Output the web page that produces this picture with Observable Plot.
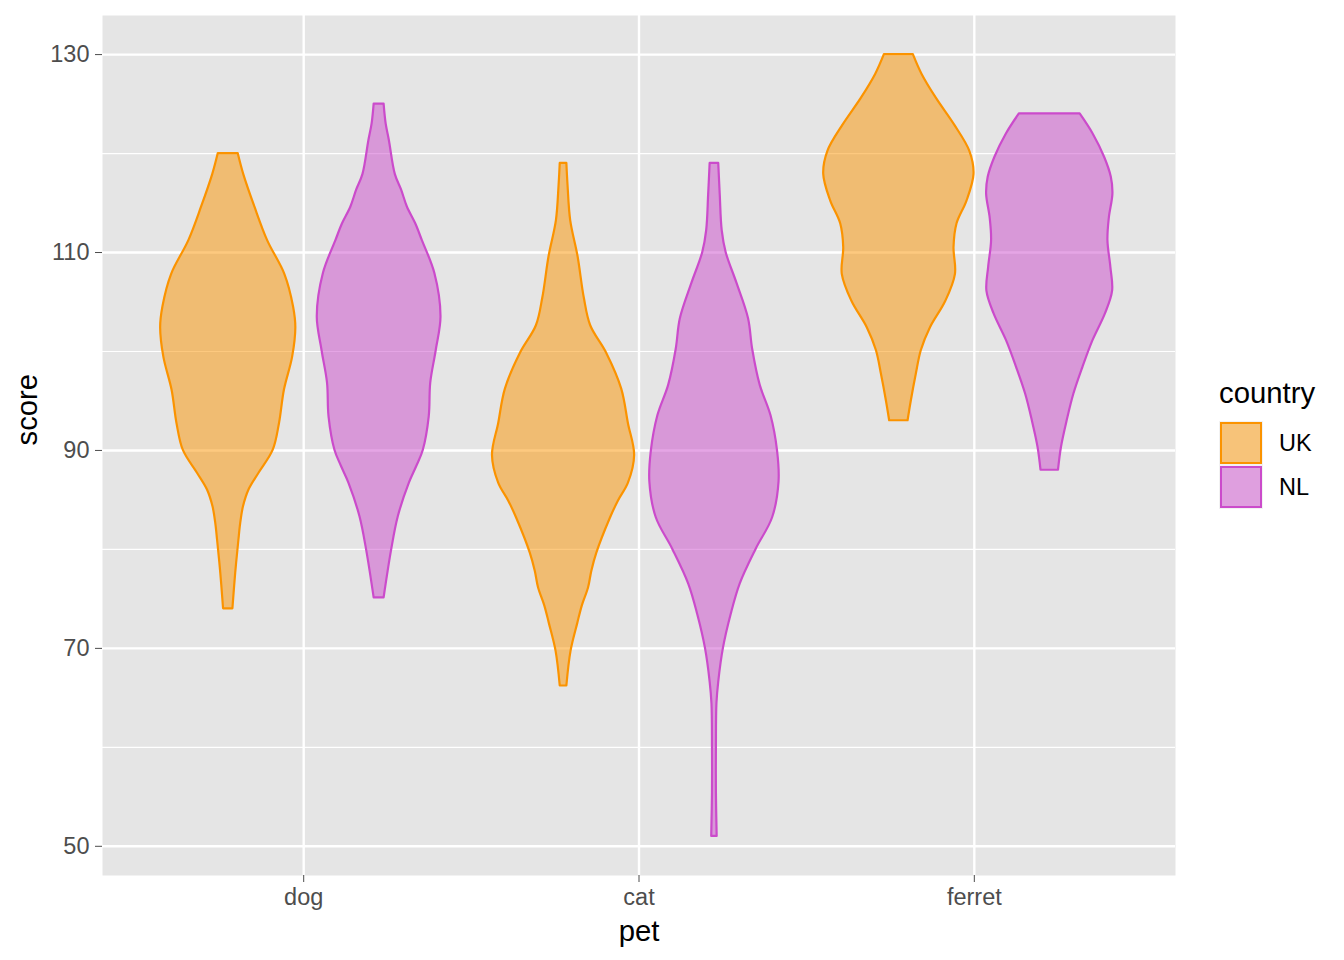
<!DOCTYPE html>
<html>
<head>
<meta charset="utf-8">
<script src="https://cdn.jsdelivr.net/npm/d3@7"></script>
<script src="https://cdn.jsdelivr.net/npm/@observablehq/plot@0.6"></script>
<style>
  body { margin: 0; background: #fff; font-family: "Liberation Sans", Arial, Helvetica, sans-serif; }
  #wrap { position: relative; width: 1344px; height: 960px; }
  #legend { position: absolute; left: 1219px; top: 378px; }
  #legend .ttl { font-size: 29.3px; line-height: 29.3px; color: #000; height: 43px; }
  #legend .row { display: flex; align-items: center; height: 44px; }
  #legend .cell { width: 44px; height: 44px; padding: 1px; box-sizing: border-box; background: #F2F2F2; }
  #legend .key { width: 42px; height: 42px; box-sizing: border-box; border: 2px solid; }
  #legend .lab { font-size: 23.5px; line-height: 44px; margin-left: 16px; color: #000; }
</style>
</head>
<body>
<div id="wrap"></div>
<script>
// ---- categories / styling keys ----
const pets = ["dog", "cat", "ferret"];
const countries = ["UK", "NL"];
const countryColors = ["#FB9300", "#CB4BCB"];
const yTicksMajor = [50, 70, 90, 110, 130];
const yTicksMinor = [60, 80, 100, 120];

// ---- violin profiles: score levels and relative density ----
const dogUK_score = [74.0, 77.6, 80.9, 82.6, 84.3, 86.0, 87.7, 90.0, 92.7, 96.1, 99.4, 102.4, 104.5, 107.8, 111.2, 114.6, 117.9, 120.0];
const dogUK_dens  = [0.062, 0.099, 0.141, 0.165, 0.202, 0.275, 0.408, 0.595, 0.679, 0.745, 0.853, 0.896, 0.866, 0.750, 0.522, 0.353, 0.205, 0.132];

const dogNL_score = [75.1, 79.9, 83.3, 86.7, 88.4, 90.0, 93.4, 96.8, 100.1, 103.5, 107.9, 111.2, 112.9, 114.6, 116.3, 117.9, 121.3, 123.0, 125.0];
const dogNL_dens  = [0.066, 0.165, 0.254, 0.401, 0.500, 0.585, 0.664, 0.684, 0.757, 0.820, 0.738, 0.573, 0.485, 0.374, 0.298, 0.214, 0.136, 0.093, 0.066];

const catUK_score = [66.2, 69.7, 72.5, 74.3, 76.1, 77.8, 79.6, 83.1, 84.9, 86.7, 89.5, 92.7, 96.2, 99.8, 102.6, 105.4, 109.6, 113.2, 116.7, 119.0];
const catUK_dens  = [0.044, 0.099, 0.188, 0.249, 0.331, 0.375, 0.440, 0.618, 0.728, 0.860, 0.942, 0.860, 0.771, 0.573, 0.360, 0.275, 0.192, 0.095, 0.060, 0.044];

const catNL_score = [51.0, 55.4, 60.0, 64.4, 66.6, 70.0, 73.4, 76.5, 80.0, 83.2, 86.8, 89.9, 93.5, 96.6, 100.2, 103.3, 106.9, 110.0, 112.2, 115.8, 119.0];
const catNL_dens  = [0.036, 0.026, 0.026, 0.033, 0.057, 0.119, 0.221, 0.341, 0.552, 0.771, 0.856, 0.837, 0.750, 0.606, 0.507, 0.452, 0.298, 0.155, 0.103, 0.077, 0.057];

const ferretUK_score = [93.0, 95.0, 97.7, 100.1, 102.4, 105.1, 107.8, 110.5, 112.9, 115.2, 117.9, 120.2, 122.9, 125.6, 128.0, 130.0];
const ferretUK_dens  = [0.122, 0.165, 0.231, 0.298, 0.419, 0.624, 0.750, 0.731, 0.771, 0.903, 0.996, 0.942, 0.738, 0.496, 0.308, 0.192];

const ferretNL_score = [88.0, 90.3, 93.0, 95.7, 98.4, 101.1, 103.8, 106.1, 108.5, 111.2, 113.5, 115.9, 117.6, 119.6, 122.0, 124.0];
const ferretNL_dens  = [0.116, 0.155, 0.231, 0.320, 0.440, 0.573, 0.738, 0.833, 0.810, 0.771, 0.790, 0.837, 0.816, 0.728, 0.573, 0.403];

const violins = [
  {pet: "dog", country: "UK", score: dogUK_score, dens: dogUK_dens},
  {pet: "dog", country: "NL", score: dogNL_score, dens: dogNL_dens},
  {pet: "cat", country: "UK", score: catUK_score, dens: catUK_dens},
  {pet: "cat", country: "NL", score: catNL_score, dens: catNL_dens},
  {pet: "ferret", country: "UK", score: ferretUK_score, dens: ferretUK_dens},
  {pet: "ferret", country: "NL", score: ferretNL_score, dens: ferretNL_dens}
];

const rows = violins.flatMap(v => v.score.map((s, i) => ({
  pet: v.pet, country: v.country, group: v.pet + "-" + v.country, score: s, dens: v.dens[i]
})));

const HALF = 0.225; // dodge offset and max half width (ggplot dodge width 0.9)
const center = d => pets.indexOf(d.pet) + 1 + (d.country === "UK" ? -HALF : HALF);

const allScores = rows.map(d => d.score);
const ymin = d3.min(allScores), ymax = d3.max(allScores);
const pad = (ymax - ymin) * 0.05;

const chart = Plot.plot({
  width: 1344,
  height: 960,
  marginLeft: 102,
  marginRight: 169,
  marginTop: 15,
  marginBottom: 85,
  style: {fontFamily: '"Liberation Sans", Arial, Helvetica, sans-serif', background: "white", color: "black"},
  x: {type: "linear", domain: [0.4, pets.length + 0.6], label: null},
  y: {domain: [ymin - pad, ymax + pad], label: null},
  color: {domain: countries, range: countryColors},
  marks: [
    Plot.frame({fill: "#E5E5E5", stroke: "none"}),
    Plot.gridY(yTicksMinor, {stroke: "white", strokeOpacity: 1, strokeWidth: 1.2}),
    Plot.gridY(yTicksMajor, {stroke: "white", strokeOpacity: 1, strokeWidth: 2.4}),
    Plot.gridX(pets.map((p, i) => i + 1), {stroke: "white", strokeOpacity: 1, strokeWidth: 2.4}),
    Plot.areaX(rows, {
      y: "score",
      x1: d => center(d) - d.dens * HALF,
      x2: d => center(d) + d.dens * HALF,
      z: "group",
      fill: "country",
      stroke: "country",
      fillOpacity: 0.5,
      strokeWidth: 2.2,
      strokeLinejoin: "round",
      curve: "catmull-rom"
    }),
    Plot.axisY(yTicksMajor, {tickSize: 7, tickPadding: 6, fontSize: 23.5, color: "#4D4D4D", label: null}),
    Plot.axisX(pets.map((p, i) => i + 1), {tickSize: 7, tickPadding: 6, fontSize: 23.5, color: "#4D4D4D", label: null, tickFormat: v => pets[v - 1]}),
    Plot.text(["pet"], {text: d => d, frameAnchor: "bottom", lineAnchor: "bottom", dy: 65, fontSize: 29.3, fill: "black"}),
    Plot.text(["score"], {text: d => d, frameAnchor: "left", rotate: -90, dx: -75, fontSize: 29.3, fill: "black"})
  ]
});

const wrap = document.getElementById("wrap");
wrap.appendChild(chart);

// legend (HTML, placed to the right of the panel)
const legend = document.createElement("div");
legend.id = "legend";
const ttl = document.createElement("div");
ttl.className = "ttl";
ttl.textContent = "country";
legend.appendChild(ttl);
countries.forEach((c, i) => {
  const row = document.createElement("div");
  row.className = "row";
  const cell = document.createElement("div");
  cell.className = "cell";
  const key = document.createElement("div");
  key.className = "key";
  key.style.borderColor = d3.color(countryColors[i]).formatHex();
  const fillCol = d3.color(countryColors[i]); fillCol.opacity = 0.5;
  key.style.background = fillCol.formatRgb();
  cell.appendChild(key);
  const lab = document.createElement("span");
  lab.className = "lab";
  lab.textContent = c;
  row.appendChild(cell);
  row.appendChild(lab);
  legend.appendChild(row);
});
wrap.appendChild(legend);
</script>
</body>
</html>
